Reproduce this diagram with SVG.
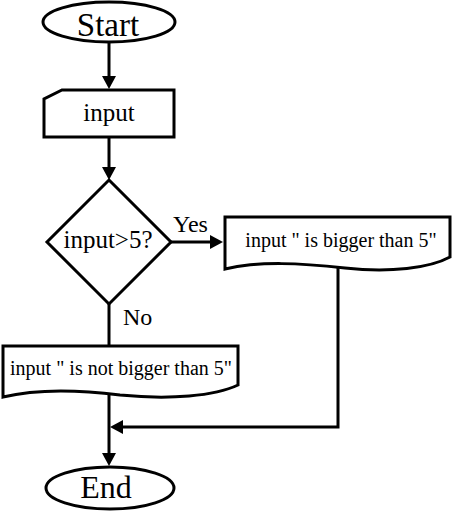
<svg xmlns="http://www.w3.org/2000/svg" width="454" height="511" viewBox="0 0 454 511">
<style>
.s{fill:#fff;stroke:#000;stroke-width:3}
.c{fill:none;stroke:#000;stroke-width:3}
</style>
<defs>
<marker id="ah" markerUnits="userSpaceOnUse" markerWidth="14" markerHeight="14" refX="3" refY="7" orient="auto">
<path d="M0,0 L13,7 L0,14 Z" fill="#000"/>
</marker>
</defs>
<rect width="454" height="511" fill="#fff"/>
<g id="connectors">
<path class="c" d="M109,43 V79" marker-end="url(#ah)"/>
<path class="c" d="M109,137 V170" marker-end="url(#ah)"/>
<path class="c" d="M171,242 H213" marker-end="url(#ah)"/>
<path class="c" d="M109,304 V346"/>
<path class="c" d="M338,268 V427 H120" marker-end="url(#ah)"/>
<path class="c" d="M109,394 V456" marker-end="url(#ah)"/>
<text x="173" y="232" font-family="Liberation Serif, serif" font-size="24">Yes</text>
<text x="123" y="325" font-family="Liberation Serif, serif" font-size="24">No</text>
</g>
<g id="start">
<ellipse class="s" cx="109" cy="22" rx="66" ry="20"/>
<text x="108" y="36" font-family="Liberation Serif, serif" font-size="33" text-anchor="middle">Start</text>
</g>
<g id="input">
<path class="s" d="M62,90 H174 V137 H44 V99 Z"/>
<text x="109" y="121" font-family="Liberation Serif, serif" font-size="25" text-anchor="middle">input</text>
</g>
<g id="decision">
<path class="s" d="M109,180 L171,242 L109,304 L47,242 Z"/>
<text x="108" y="248" font-family="Liberation Serif, serif" font-size="25" text-anchor="middle">input&gt;5?</text>
</g>
<g id="out-yes">
<path class="s" d="M225,217 H450 V257 C430,268 390,273 345,268 C300,263 260,261 225,269 Z"/>
<text x="341" y="247" font-family="Liberation Serif, serif" font-size="20" text-anchor="middle">input &quot; is bigger than 5&quot;</text>
</g>
<g id="out-no">
<path class="s" d="M3,346 H238 V385 C215,396 170,400 120,395 C80,390 40,388 3,397 Z"/>
<text x="121" y="375" font-family="Liberation Serif, serif" font-size="20" text-anchor="middle">input &quot; is not bigger than 5&quot;</text>
</g>
<g id="end">
<ellipse class="s" cx="110" cy="488" rx="64" ry="21"/>
<text x="106" y="498" font-family="Liberation Serif, serif" font-size="32" text-anchor="middle">End</text>
</g>
</svg>
